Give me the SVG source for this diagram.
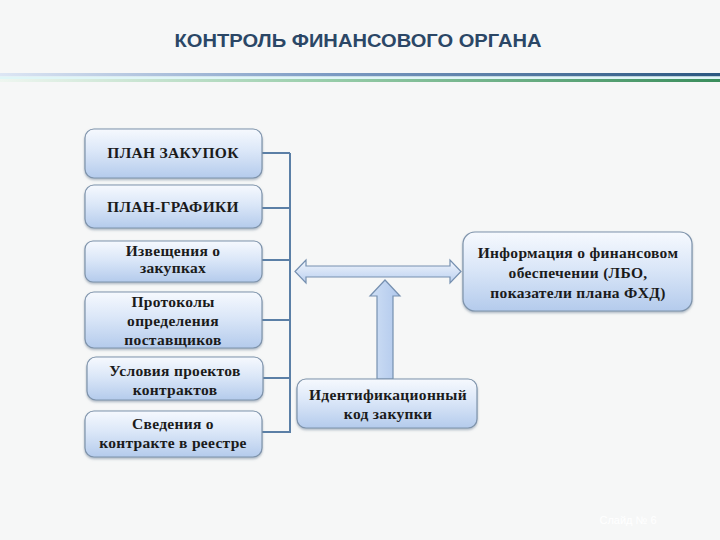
<svg xmlns="http://www.w3.org/2000/svg" width="720" height="540" viewBox="0 0 720 540">
<defs>
<linearGradient id="boxg" x1="0" y1="0" x2="0" y2="1">
<stop offset="0" stop-color="#f6f9fe"/>
<stop offset="0.45" stop-color="#dbe7f8"/>
<stop offset="1" stop-color="#b4cbec"/>
</linearGradient>
<linearGradient id="arrg" x1="0" y1="0" x2="0" y2="1">
<stop offset="0" stop-color="#f2f6fd"/>
<stop offset="1" stop-color="#b9cfef"/>
</linearGradient>
<linearGradient id="varrg" x1="0" y1="0" x2="1" y2="0">
<stop offset="0" stop-color="#cfdff5"/>
<stop offset="1" stop-color="#b0c8ec"/>
</linearGradient>
<linearGradient id="blueline" x1="0" y1="0" x2="1" y2="0">
<stop offset="0" stop-color="#dde6f4"/>
<stop offset="0.45" stop-color="#7d9cc4"/>
<stop offset="1" stop-color="#2a5780"/>
</linearGradient>
<linearGradient id="greenline" x1="0" y1="0" x2="1" y2="0">
<stop offset="0" stop-color="#eef6f0"/>
<stop offset="0.45" stop-color="#98cdaa"/>
<stop offset="1" stop-color="#3a8d5c"/>
</linearGradient>
<filter id="sh" x="-10%" y="-10%" width="120%" height="130%">
<feDropShadow dx="0" dy="1.5" stdDeviation="1.2" flood-color="#6d7f95" flood-opacity="0.55"/>
</filter>
</defs>
<style>
.box{fill:url(#boxg);stroke:#7e93ab;stroke-width:1.2;filter:url(#sh)}
.t{font-family:"Liberation Serif","Times New Roman",serif;font-size:15.5px;font-weight:bold;letter-spacing:0.3px;fill:#1b1b1b;text-anchor:middle}
.conn{fill:none;stroke:#5b7fa6;stroke-width:2}
.arr{fill:url(#arrg);stroke:#7690b0;stroke-width:1.2}
</style>
<rect x="0" y="0" width="720" height="540" fill="#f6f7f7"/>
<text x="358" y="47" font-family="'Liberation Sans',Arial,sans-serif" font-size="19" font-weight="bold" fill="#2b4766" text-anchor="middle" textLength="367" lengthAdjust="spacingAndGlyphs">КОНТРОЛЬ ФИНАНСОВОГО ОРГАНА</text>
<rect x="0" y="73" width="720" height="3.5" fill="url(#blueline)"/>
<rect x="0" y="76.5" width="720" height="2.5" fill="#dff6f7"/>
<rect x="0" y="79" width="720" height="3" fill="url(#greenline)"/>

<g id="connectors">
<path class="conn" d="M262 153H290M262 208H290M262 260H290M262 320H290M263 378H290M262 432H290M290 153V433"/>
<path id="double-arrow" class="arr" d="M295 271.5L306 260V266H450V260L461 271.5L450 283V277H306V283Z"/>
<path id="up-arrow" fill="url(#varrg)" stroke="#7690b0" stroke-width="1.2" d="M385 280L400 296H393V379H377V296H370Z"/>
</g>

<g id="n1"><rect class="box" x="85" y="129" width="177" height="49" rx="9"/><text class="t" x="173" y="158">ПЛАН ЗАКУПОК</text></g>
<g id="n2"><rect class="box" x="85" y="185" width="177" height="43" rx="9"/><text class="t" x="173" y="212">ПЛАН-ГРАФИКИ</text></g>
<g id="n3"><rect class="box" x="85" y="241" width="177" height="41" rx="8"/><text class="t" x="173" y="256">Извещения о</text><text class="t" x="173" y="273">закупках</text></g>
<g id="n4"><rect class="box" x="85" y="292" width="177" height="56" rx="9"/><text class="t" x="173" y="307">Протоколы</text><text class="t" x="173" y="326">определения</text><text class="t" x="173" y="345">поставщиков</text></g>
<g id="n5"><rect class="box" x="87" y="357" width="176" height="43" rx="9"/><text class="t" x="175" y="376">Условия проектов</text><text class="t" x="175" y="395">контрактов</text></g>
<g id="n6"><rect class="box" x="85" y="411" width="177" height="46" rx="9"/><text class="t" x="173" y="429">Сведения о</text><text class="t" x="173" y="448">контракте в реестре</text></g>
<g id="n7"><rect class="box" x="463" y="232" width="229" height="79" rx="12"/><text class="t" x="578" y="258">Информация о финансовом</text><text class="t" x="578" y="278">обеспечении (ЛБО,</text><text class="t" x="578" y="298">показатели плана ФХД)</text></g>
<g id="n8"><rect class="box" x="297" y="379" width="180" height="49" rx="9"/><text class="t" x="388" y="400">Идентификационный</text><text class="t" x="388" y="419">код закупки</text></g>

<text x="628" y="524" font-family="'Liberation Sans',Arial,sans-serif" font-size="11" fill="#ffffff" text-anchor="middle">Слайд № 6</text>
</svg>
